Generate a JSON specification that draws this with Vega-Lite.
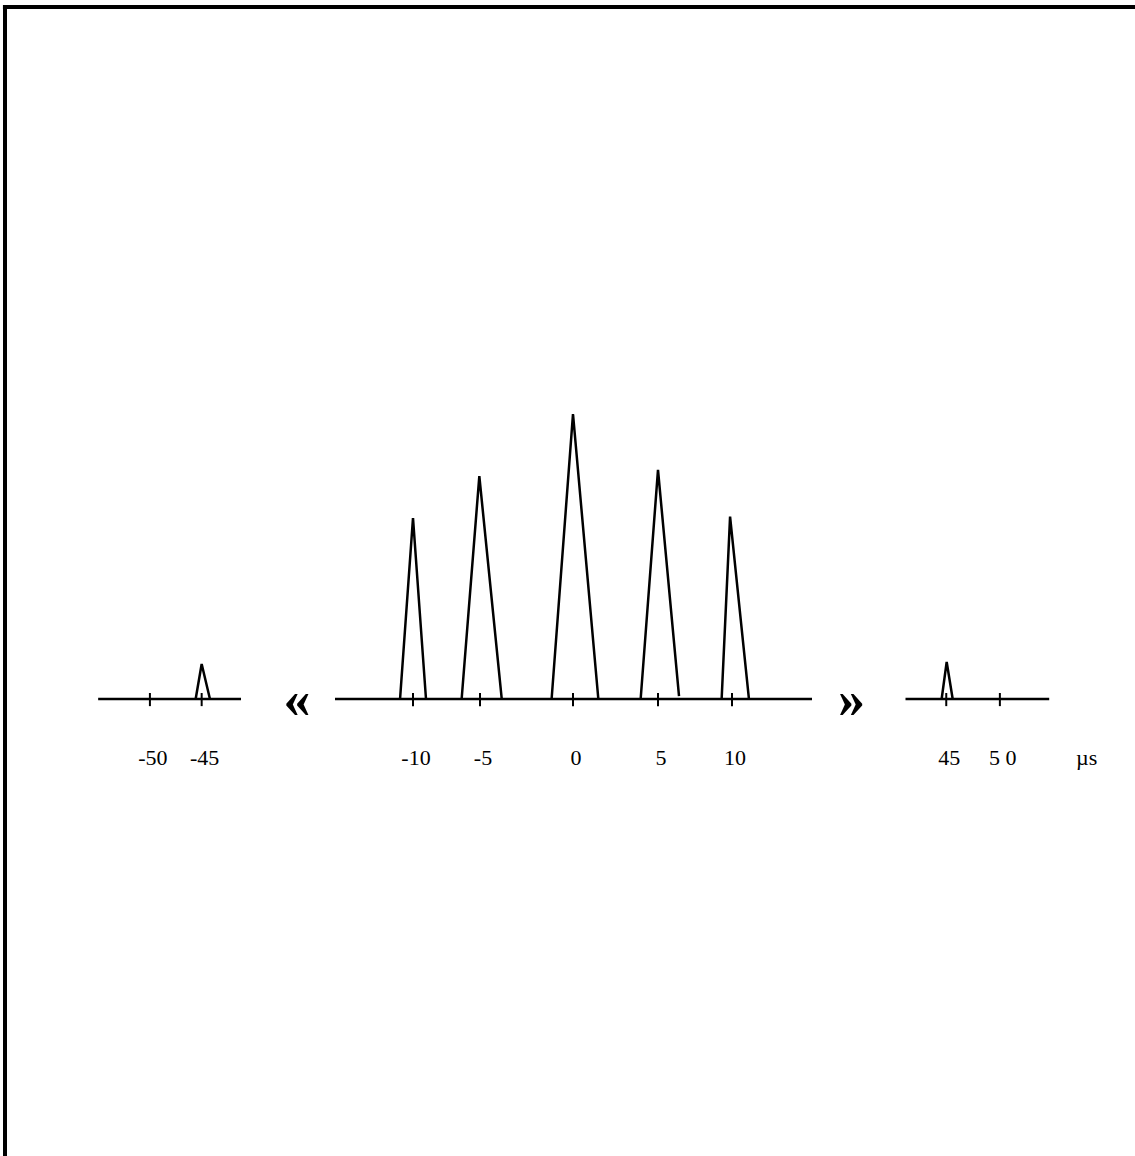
{
  "$schema": "https://vega.github.io/schema/vega-lite/v6.json",
  "width": 1130,
  "height": 1149,
  "padding": {"left": 5, "top": 7, "right": 0, "bottom": 0},
  "autosize": {"type": "none"},
  "background": "white",
  "config": {"view": {"stroke": null}},
  "datasets": {
    "peaks": [
      {"peak": "-45", "i": 0, "t": -45.58, "amp": 0},
      {"peak": "-45", "i": 1, "t": -45.0, "amp": 0.123},
      {"peak": "-45", "i": 2, "t": -44.2, "amp": 0},
      {"peak": "-10", "i": 0, "t": -10.83, "amp": 0},
      {"peak": "-10", "i": 1, "t": -10.0, "amp": 0.635},
      {"peak": "-10", "i": 2, "t": -9.03, "amp": 0},
      {"peak": "-5", "i": 0, "t": -6.37, "amp": 0},
      {"peak": "-5", "i": 1, "t": -5.05, "amp": 0.782},
      {"peak": "-5", "i": 2, "t": -3.83, "amp": 0},
      {"peak": "0", "i": 0, "t": -1.15, "amp": 0},
      {"peak": "0", "i": 1, "t": 0.0, "amp": 1.0},
      {"peak": "0", "i": 2, "t": 1.49, "amp": 0},
      {"peak": "5", "i": 0, "t": 3.98, "amp": 0},
      {"peak": "5", "i": 1, "t": 5.0, "amp": 0.804},
      {"peak": "5", "i": 2, "t": 6.42, "amp": 0.01},
      {"peak": "10", "i": 0, "t": 9.3, "amp": 0},
      {"peak": "10", "i": 1, "t": 9.87, "amp": 0.64},
      {"peak": "10", "i": 2, "t": 11.06, "amp": 0},
      {"peak": "45", "i": 0, "t": 44.57, "amp": 0},
      {"peak": "45", "i": 1, "t": 45.04, "amp": 0.13},
      {"peak": "45", "i": 2, "t": 45.6, "amp": 0}
    ],
    "segments": [
      {"t0": -55, "t1": -41.2},
      {"t0": -15, "t1": 15},
      {"t0": 41.2, "t1": 54.6}
    ],
    "ticks": [
      {"t": -50, "label": "-50"},
      {"t": -45, "label": "-45"},
      {"t": -10, "label": "-10"},
      {"t": -5, "label": "-5"},
      {"t": 0, "label": "0"},
      {"t": 5, "label": "5"},
      {"t": 10, "label": "10"},
      {"t": 45, "label": "45"},
      {"t": 50, "label": "5 0"}
    ],
    "breaks": [
      {"t": -25.6, "sym": "«"},
      {"t": 26.1, "sym": "»"}
    ],
    "unit": [
      {"t": 58.1, "text": "µs"}
    ]
  },
  "layer": [
    {
      "data": {"values": [{}]},
      "mark": {"type": "rule", "color": "black", "strokeWidth": 4},
      "encoding": {
        "x": {"datum": -64, "type": "quantitative",
          "scale": {"type": "linear", "domain": [-64, -41.2, -15, -10, -5, 0, 5, 10, 15, 41.2, 62.6], "range": [0, 236, 330, 408, 475, 568, 653, 727, 807, 900.5, 1130], "zero": false, "nice": false, "clamp": false},
          "axis": null},
        "y": {"datum": -1.6035, "type": "quantitative",
          "scale": {"domain": [-1.6035, 2.4281], "zero": false, "nice": false},
          "axis": null},
        "y2": {"datum": 2.4281}
      }
    },
    {
      "data": {"values": [{}]},
      "mark": {"type": "rule", "color": "black", "strokeWidth": 4},
      "encoding": {
        "x": {"datum": -64.2, "type": "quantitative", "axis": null},
        "x2": {"datum": 62.6},
        "y": {"datum": 2.4281, "type": "quantitative", "axis": null}
      }
    },
    {
      "data": {"name": "segments"},
      "mark": {"type": "rule", "color": "black", "strokeWidth": 2.5},
      "encoding": {
        "x": {"field": "t0", "type": "quantitative", "axis": null},
        "x2": {"field": "t1"},
        "y": {"datum": 0, "type": "quantitative", "axis": null}
      }
    },
    {
      "data": {"name": "ticks"},
      "mark": {"type": "rule", "color": "black", "strokeWidth": 2},
      "encoding": {
        "x": {"field": "t", "type": "quantitative", "axis": null},
        "y": {"datum": 0.021, "type": "quantitative", "axis": null},
        "y2": {"datum": -0.025}
      }
    },
    {
      "data": {"name": "ticks"},
      "mark": {"type": "text", "font": "Liberation Serif", "fontSize": 22, "color": "black", "baseline": "alphabetic", "align": "center", "dy": 66, "dx": 3},
      "encoding": {
        "x": {"field": "t", "type": "quantitative", "axis": null},
        "y": {"datum": 0, "type": "quantitative", "axis": null},
        "text": {"field": "label"}
      }
    },
    {
      "data": {"name": "unit"},
      "mark": {"type": "text", "font": "Liberation Serif", "fontSize": 22, "color": "black", "baseline": "alphabetic", "align": "center", "dy": 66},
      "encoding": {
        "x": {"field": "t", "type": "quantitative", "axis": null},
        "y": {"datum": 0, "type": "quantitative", "axis": null},
        "text": {"field": "text"}
      }
    },
    {
      "data": {"name": "breaks"},
      "mark": {"type": "text", "font": "Liberation Serif", "fontSize": 54, "fontWeight": "bold", "color": "black", "baseline": "middle", "align": "center", "dy": 2},
      "encoding": {
        "x": {"field": "t", "type": "quantitative", "axis": null},
        "y": {"datum": 0, "type": "quantitative", "axis": null},
        "text": {"field": "sym"}
      }
    },
    {
      "data": {"name": "peaks"},
      "mark": {"type": "line", "color": "black", "strokeWidth": 2.5, "strokeJoin": "miter"},
      "encoding": {
        "x": {"field": "t", "type": "quantitative", "axis": null},
        "y": {"field": "amp", "type": "quantitative", "axis": null},
        "detail": {"field": "peak"},
        "order": {"field": "i", "type": "quantitative"}
      }
    }
  ]
}
